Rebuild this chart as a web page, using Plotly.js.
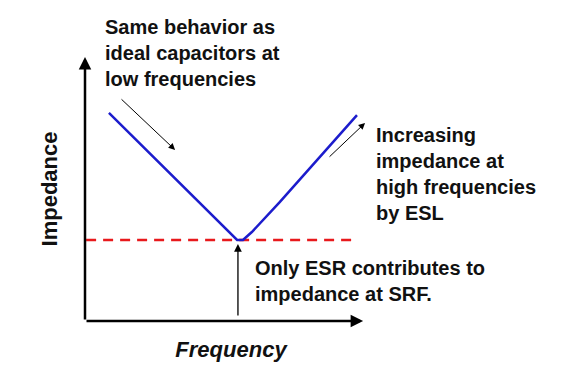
<!DOCTYPE html>
<html>
<head>
<meta charset="utf-8">
<script src="https://cdn.plot.ly/plotly-3.0.1.min.js"></script>
<style>html,body{margin:0;padding:0;background:#fff;}#chart{width:569px;height:370px;}</style>
</head>
<body>
<div id="chart"></div>
<script>
// Impedance curve of a real capacitor (arbitrary units)
const frequency = [0.86, 5.47, 5.68, 6.00, 7.01, 9.78];
const impedance = [7.88, 3.07, 3.07, 3.37, 4.51, 7.80];
// ESR level (minimum impedance at SRF)
const esrFreq = [0.04, 9.71];
const esrLevel = [3.07, 3.07];
const srfFreq = 5.50;

const labelFont = {family: '"Liberation Sans", Arial, sans-serif', size: 20, color: '#111'};

const traces = [
  {x: esrFreq, y: esrLevel, mode: 'lines', line: {color: '#e8191c', width: 2.5, dash: '10px,7px'}, hoverinfo: 'skip'},
  {x: frequency, y: impedance, mode: 'lines', line: {color: '#1c1ccc', width: 2.5}, hoverinfo: 'skip'}
];

function arrow(x, y, ax, ay, w, size) {
  return {x: x, y: y, ax: ax, ay: ay, xref: 'x', yref: 'y', axref: 'x', ayref: 'y',
    text: '', showarrow: true, arrowhead: 2, arrowsize: size, arrowwidth: w, arrowcolor: '#000'};
}

const layout = {
  width: 569, height: 370,
  margin: {l: 85, r: 192, t: 57, b: 49},
  paper_bgcolor: '#fff', plot_bgcolor: '#fff',
  showlegend: false,
  xaxis: {range: [0, 10.5], showgrid: false, zeroline: false, showline: false, showticklabels: false, ticks: '',
    title: {text: '<b><i>Frequency</i></b>', font: {family: '"Liberation Sans", Arial, sans-serif', size: 22, color: '#111'}, standoff: 20}},
  yaxis: {range: [0, 10], showgrid: false, zeroline: false, showline: false, showticklabels: false, ticks: '',
    title: {text: '<b>Impedance</b>', font: {family: '"Liberation Sans", Arial, sans-serif', size: 22, color: '#111'}, standoff: 20}},
  annotations: [
    // axes with arrowheads
    arrow(0, 10, 0, 0, 2.5, 1),
    arrow(10, 0, 0, 0, 2.5, 1),
    // pointer arrows
    arrow(3.24, 6.48, 1.26, 8.45, 1, 1.3),
    arrow(10.07, 7.5, 8.74, 6.17, 1, 1.3),
    arrow(srfFreq, 2.92, srfFreq, 0.15, 1.3, 1.2),
    // notes
    {xref: 'paper', yref: 'paper', x: 0.062, y: 1.017, xanchor: 'left', yanchor: 'middle', align: 'left', showarrow: false,
      text: '<b>Same behavior as<br>ideal capacitors at<br>low frequencies</b>', font: labelFont},
    {xref: 'paper', yref: 'paper', x: 0.99, y: 0.557, xanchor: 'left', yanchor: 'middle', align: 'left', showarrow: false,
      text: '<b>Increasing<br>impedance at<br>high frequencies<br>by ESL</b>', font: labelFont},
    {xref: 'paper', yref: 'paper', x: 0.575, y: 0.153, xanchor: 'left', yanchor: 'middle', align: 'left', showarrow: false,
      text: '<b>Only ESR contributes to<br>impedance at SRF.</b>', font: labelFont}
  ]
};

Plotly.newPlot('chart', traces, layout, {staticPlot: true, displayModeBar: false});
</script>
</body>
</html>
